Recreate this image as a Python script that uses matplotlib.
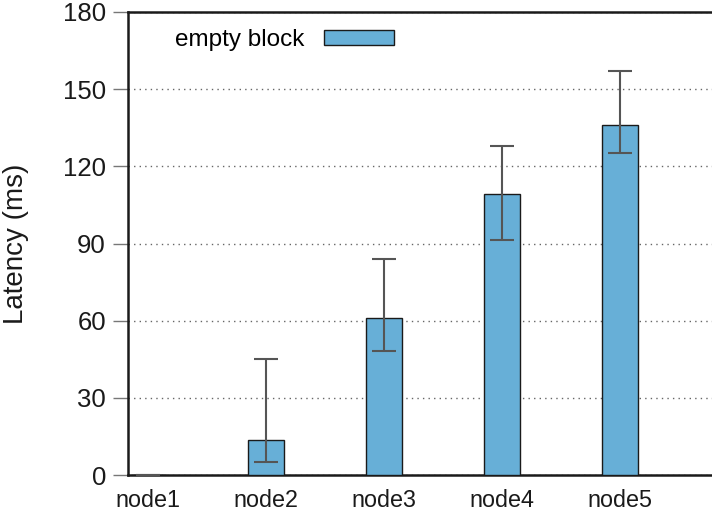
import matplotlib.pyplot as plt
import numpy as np

plt.rcParams['font.family'] = ['Liberation Sans', 'DejaVu Sans']

nodes = ['node1', 'node2', 'node3', 'node4', 'node5']
latency = [0.0, 13.5, 61.2, 109.4, 136.2]
err_low = [0.0, 5.0, 48.2, 91.2, 125.2]
err_high = [0.0, 45.1, 84.1, 128.0, 157.2]

x = np.arange(len(nodes))
lower = np.array(latency) - np.array(err_low)
upper = np.array(err_high) - np.array(latency)

fig = plt.figure(figsize=(7.12, 5.17), dpi=100)
ax = fig.add_axes([0.18, 0.0812, 0.82, 0.8956])

ax.bar(x, latency, width=0.3, color='#67afd7', edgecolor='#1a1a1a',
       linewidth=1.0, label='empty block', zorder=3)
ax.errorbar(x, latency, yerr=[lower, upper], fmt='none', ecolor='#555555',
            elinewidth=1.5, capsize=8.5, capthick=1.5, zorder=4)

ax.set_xlim(-0.17, 4.78)
ax.set_ylim(0, 180)
ax.set_yticks(range(0, 181, 30))
ax.set_xticks(x)
ax.set_xticklabels(nodes)
ax.set_ylabel('Latency (ms)', fontsize=20, color='#1a1a1a')
ax.yaxis.set_label_coords(-0.169, 0.5)

ax.grid(axis='y', linestyle=(0, (1, 3)), color='#666666', linewidth=1.0, zorder=0)
ax.spines['right'].set_visible(False)
for s in ['left', 'bottom', 'top']:
    ax.spines[s].set_linewidth(1.8)
    ax.spines[s].set_color('#1a1a1a')
ax.tick_params(axis='y', direction='out', length=11, width=1.0, color='#777777',
               labelsize=18.5, labelcolor='#1a1a1a', pad=5)
ax.tick_params(axis='x', length=0, labelsize=16.8, labelcolor='#1a1a1a', pad=10)

ax.legend(loc='upper left', frameon=False, markerfirst=False, fontsize=17.5,
          handlelength=2.9, handleheight=0.6, borderaxespad=0.2,
          bbox_to_anchor=(0.055, 0.995))

fig.savefig('out.png', dpi=100)
